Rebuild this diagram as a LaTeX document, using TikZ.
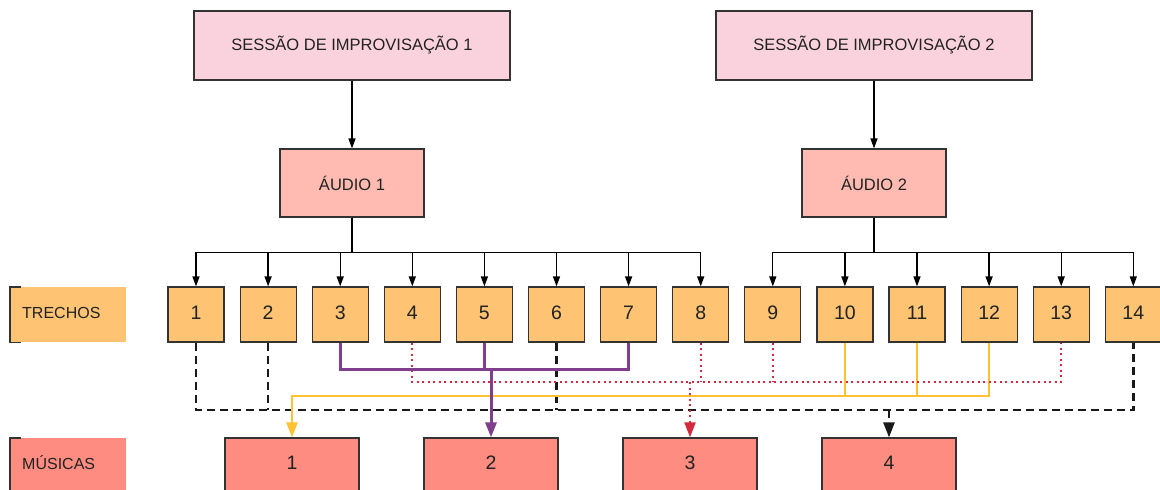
\documentclass[tikz,border=0pt]{standalone}
\usepackage{fontspec}
\setmainfont{Liberation Sans}
\usetikzlibrary{arrows.meta}

\definecolor{sessfill}{HTML}{FAD2DE}
\definecolor{audiofill}{HTML}{FFBBB1}
\definecolor{trechofill}{HTML}{FFC374}
\definecolor{musicafill}{HTML}{FF8C80}
\definecolor{boxline}{HTML}{333333}
\definecolor{textcol}{HTML}{222222}
\definecolor{linkpurple}{HTML}{7F3F8C}
\definecolor{linkred}{HTML}{D52A3E}
\definecolor{linkyellow}{HTML}{FFC233}

\tikzset{
  box/.style={draw=boxline, line width=1.2pt, inner sep=0pt, text=textcol},
  sess/.style={box, fill=sessfill, minimum width=316pt, minimum height=69pt,
    font=\fontsize{16.5}{20}\selectfont},
  audio/.style={box, fill=audiofill, minimum width=144pt, minimum height=68pt,
    font=\fontsize{16.5}{20}\selectfont},
  trecho/.style={box, fill=trechofill, minimum width=56pt, minimum height=55pt,
    text depth=4pt, font=\fontsize{19.5}{23}\selectfont},
  musica/.style={box, fill=musicafill, minimum width=134pt, minimum height=54pt,
    text depth=4pt, font=\fontsize{19.5}{23}\selectfont},
  rowlabel/.style={inner xsep=12pt, inner ysep=0pt, text width=92pt, align=left,
    anchor=north west, text=textcol, text depth=4pt,
    font=\fontsize{16}{19}\selectfont},
  bracket/.style={draw=boxline, line width=1.2pt},
  feed/.style={draw=black, line width=1.3pt, -{Triangle[length=10pt,width=7pt]}},
  blackdash/.style={draw=black!90, line width=2.4pt, dash pattern=on 8pt off 5pt},
  purplelink/.style={draw=linkpurple, line width=3pt},
  redlink/.style={draw=linkred, line width=2pt, dash pattern=on 2pt off 3.5pt},
  yellowlink/.style={draw=linkyellow, line width=2.4pt},
  tip/.style={-{Triangle[length=15pt,width=11pt]}}
}

\begin{document}
\begin{tikzpicture}[x=1pt, y=-1pt]
  \clip (0,0) rectangle (1160,490);

  % sessions and their recordings
  \node[sess] (s1) at (352,45.5) {SESSÃO DE IMPROVISAÇÃO 1};
  \node[sess] (s2) at (874,45.5) {SESSÃO DE IMPROVISAÇÃO 2};
  \node[audio] (a1) at (352,183) {ÁUDIO 1};
  \node[audio] (a2) at (874,183) {ÁUDIO 2};
  \draw[feed] (s1) -- (a1);
  \draw[feed] (s2) -- (a2);

  % row labels
  \node[rowlabel, fill=trechofill, minimum height=55pt] (lt) at (10,287) {TRECHOS};
  \node[rowlabel, fill=musicafill, minimum height=52pt] (lm) at (10,438) {MÚSICAS};
  \draw[bracket] ([xshift=11pt]lt.north west) -| (lt.south west) -- ([xshift=11pt]lt.south west);
  \draw[bracket] ([xshift=11pt]lm.north west) -| (lm.south west) -- ([xshift=11pt]lm.south west);

  % excerpts
  \foreach \i in {1,...,14}
    \node[trecho] (t\i) at ({196+72.1*(\i-1)},314.5) {\i};
  \foreach \i in {1,...,8}
    \draw[feed] (a1.south) -- ++(0,35) -| (t\i.north);
  \foreach \i in {9,...,14}
    \draw[feed] (a2.south) -- ++(0,35) -| (t\i.north);

  % songs
  \foreach \j in {1,...,4}
    \node[musica] (m\j) at ({292+199*(\j-1)},465) {\j};

  % junction points
  \coordinate (bk) at (889,410);
  \coordinate (yk) at (292,396);
  \coordinate (rk) at (690,382);
  \coordinate (pk) at (491,369);

  % song 4: 1, 2, 6, 14
  \draw[blackdash] (t1.south) |- (t14.south |- bk) -- (t14.south);
  \draw[blackdash] (t2.south) -- (t2.south |- bk);
  \draw[blackdash] (t6.south) -- (t6.south |- bk);
  \draw[blackdash, tip] (bk) -- (m4.north);

  % song 1: 10, 11, 12
  \draw[yellowlink] (t10.south) -- (t10.south |- yk);
  \draw[yellowlink] (t11.south) -- (t11.south |- yk);
  \draw[yellowlink, tip] (t12.south) |- (yk) -- (m1.north);

  % song 3: 4, 8, 9, 13
  \draw[redlink] (t4.south) |- (t13.south |- rk) -- (t13.south);
  \draw[redlink] (t8.south) -- (t8.south |- rk);
  \draw[redlink] (t9.south) -- (t9.south |- rk);
  \draw[redlink, tip] (rk) -- (m3.north);

  % song 2: 3, 5, 7
  \draw[purplelink] (t3.south) |- (t7.south |- pk) -- (t7.south);
  \draw[purplelink] (t5.south) -- (t5.south |- pk);
  \draw[purplelink, tip] (pk) -- (m2.north);
\end{tikzpicture}
\end{document}
